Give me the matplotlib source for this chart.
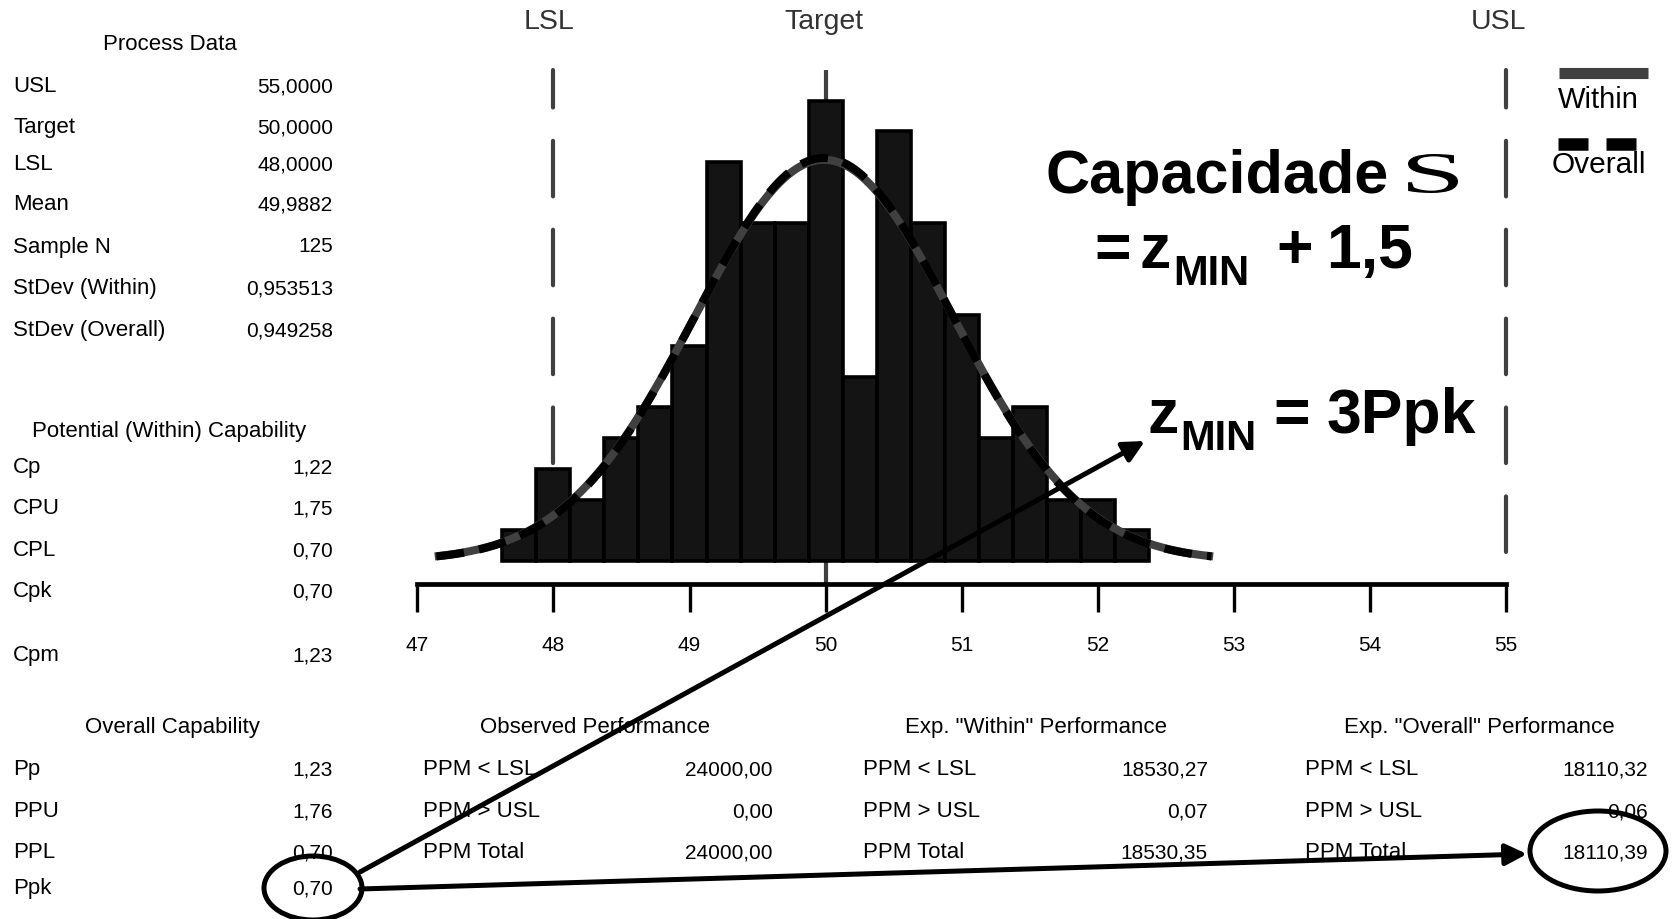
import numpy as np
import matplotlib
matplotlib.use("Agg")
import matplotlib.pyplot as plt
from matplotlib.patches import Ellipse, PathPatch
from matplotlib.textpath import TextPath
from matplotlib.font_manager import FontProperties
from matplotlib.transforms import Affine2D

plt.rcParams['font.family'] = ['Liberation Sans', 'DejaVu Sans']
plt.rcParams['lines.scale_dashes'] = False

# ---------------- data ----------------
USL, TARGET, LSL = 55.0, 50.0, 48.0
MEAN = 49.9882
N_SAMPLE = 125
SD_WITHIN = 0.953513
SD_OVERALL = 0.949258

bin_start = 47.625
bin_width = 0.25
counts = [1, 3, 2, 4, 5, 7, 13, 11, 11, 15, 6, 14, 11, 8, 4, 5, 2, 2, 1]
x_ticks = [47, 48, 49, 50, 51, 52, 53, 54, 55]

process_labels = ["USL", "Target", "LSL", "Mean", "Sample N", "StDev (Within)", "StDev (Overall)"]
process_values = ["55,0000", "50,0000", "48,0000", "49,9882", "125", "0,953513", "0,949258"]
potential_labels = ["Cp", "CPU", "CPL", "Cpk", "Cpm"]
potential_values = ["1,22", "1,75", "0,70", "0,70", "1,23"]
overall_labels = ["Pp", "PPU", "PPL", "Ppk"]
overall_values = ["1,23", "1,76", "0,70", "0,70"]
perf_labels = ["PPM < LSL", "PPM > USL", "PPM Total"]
observed_values = ["24000,00", "0,00", "24000,00"]
within_values = ["18530,27", "0,07", "18530,35"]
overall_perf_values = ["18110,32", "0,06", "18110,39"]

W, H = 1678, 920
fig = plt.figure(figsize=(W / 100, H / 100), dpi=100)

# ---------------- histogram axes ----------------
x_left, x_right = 417.4, 1505.8
y_top, y_axis = 71.0, 585.4
ax = fig.add_axes([x_left / W, 1 - y_axis / H, (x_right - x_left) / W, (y_axis - y_top) / H])
Y_LO, Y_HI = -0.766, 16.0
ax.set_xlim(47, 55)
ax.set_ylim(Y_LO, Y_HI)
ax.patch.set_alpha(0)

centers = bin_start + bin_width / 2 + bin_width * np.arange(len(counts))
ax.bar(centers, counts, width=bin_width, color='#141414', edgecolor='black',
       linewidth=2.6, zorder=3)

for sd, col, ls, z in [(SD_WITHIN, '#404040', '-', 4), (SD_OVERALL, 'black', (0, (20, 11)), 5)]:
    xs = np.linspace(MEAN - 3 * sd, MEAN + 3 * sd, 400)
    ys = N_SAMPLE * bin_width * np.exp(-0.5 * ((xs - MEAN) / sd) ** 2) / (sd * np.sqrt(2 * np.pi))
    ax.plot(xs, ys, color=col, lw=5.8, linestyle=ls, solid_capstyle='butt',
            dash_capstyle='butt', zorder=z)

# spec lines (drawn top -> bottom so the dash pattern starts at the top)
for xv, ls in [(LSL, (13, (40, 24))), (TARGET, '-'), (USL, (13, (40, 24)))]:
    ax.plot([xv, xv], [Y_HI, Y_LO], color='#404040', lw=3.0, linestyle=ls,
            dash_capstyle='round', solid_capstyle='butt', zorder=1, clip_on=False)

for s in ['top', 'left', 'right']:
    ax.spines[s].set_visible(False)
ax.spines['bottom'].set_linewidth(3.4)
ax.spines['bottom'].set_zorder(6)
ax.set_yticks([])
ax.set_xticks(x_ticks)
ax.set_xticklabels([str(t) for t in x_ticks])
ax.tick_params(axis='x', direction='out', length=20, width=2.4, labelsize=15, pad=16.5)

for xv, lab, dx in [(LSL, 'LSL', -0.03), (TARGET, 'Target', -0.01), (USL, 'USL', -0.055)]:
    ax.annotate(lab, xy=(xv + dx, H - 22), xycoords=('data', 'figure pixels'),
                ha='center', va='center', fontsize=20.5, color='#333333')

# ---------------- overlay axes (pixel coords) ----------------
ov = fig.add_axes([0, 0, 1, 1])
ov.set_xlim(0, W)
ov.set_ylim(H, 0)
ov.axis('off')
ov.patch.set_alpha(0)
ov.set_zorder(10)

FS_LAB = 16
FS_VAL = 15
def table(labels, values, x_lab, x_val, ys):
    for lab, val, y in zip(labels, values, ys):
        ov.text(x_lab, y, lab, ha='left', va='center', fontsize=FS_LAB)
        ov.text(x_val, y, val, ha='right', va='center', fontsize=FS_VAL)

ov.text(170, 45, "Process Data", ha='center', va='center', fontsize=FS_LAB)
table(process_labels, process_values, 13, 333, [87, 128, 165, 205, 247, 289, 331])
ov.text(169, 432, "Potential (Within) Capability", ha='center', va='center', fontsize=FS_LAB)
table(potential_labels, potential_values, 13, 333, [468, 509, 551, 592, 656])
ov.text(172, 728, "Overall Capability", ha='center', va='center', fontsize=FS_LAB)
row_y = [770, 812, 853, 889]
table(overall_labels, overall_values, 13, 333, row_y)

ov.text(595, 728, "Observed Performance", ha='center', va='center', fontsize=FS_LAB)
table(perf_labels, observed_values, 423, 773, row_y[:3])
ov.text(1036, 728, 'Exp. "Within" Performance', ha='center', va='center', fontsize=FS_LAB)
table(perf_labels, within_values, 863, 1208, row_y[:3])
ov.text(1479, 728, 'Exp. "Overall" Performance', ha='center', va='center', fontsize=FS_LAB)
table(perf_labels, overall_perf_values, 1305, 1648, row_y[:3])

# legend
ov.plot([1559, 1648], [74, 74], color='#404040', lw=8, solid_capstyle='butt')
ov.text(1558, 100, "Within", ha='left', va='center', fontsize=21)
ov.plot([1558, 1588], [145, 145], color='black', lw=9, solid_capstyle='butt')
ov.plot([1606, 1636], [145, 145], color='black', lw=9, solid_capstyle='butt')
ov.text(1552, 165, "Overall", ha='left', va='center', fontsize=21.5)

# big annotation text
bold = dict(fontweight='bold', color='black', va='baseline', ha='left')
ov.text(1045, 193, "Capacidade", fontsize=44, **bold)
# serif S
sp = TextPath((0, 0), "S", size=100, prop=FontProperties(family='Liberation Serif'))
ext = sp.get_extents()
tr = (Affine2D().translate(-ext.x0, -ext.y0)
      .scale(50 / ext.width, -39 / ext.height).translate(1408, 194))
ov.add_patch(PathPatch(tr.transform_path(sp), facecolor='black', edgecolor='none'))

ov.text(1094, 268, "=", fontsize=45, **bold)
ov.text(1140, 268, "z", fontsize=45, **bold)
ov.text(1173, 285, "MIN", fontsize=30, **bold)
ov.text(1276, 268, "+", fontsize=45, **bold)
ov.text(1326, 268, "1,5", fontsize=45, **bold)

ov.text(1147, 433, "z", fontsize=45, **bold)
ov.text(1180, 450, "MIN", fontsize=30, **bold)
ov.text(1273, 433, "=", fontsize=45, **bold)
ov.text(1327, 433, "3Ppk", fontsize=45, **bold)

# arrows and ellipses
arrow_kw = dict(arrowstyle='-|>', lw=3.6, color='black', mutation_scale=32,
                shrinkA=0, shrinkB=0)
ov.annotate('', xy=(1145, 442), xytext=(360, 873), arrowprops=arrow_kw)
ov.annotate('', xy=(1527, 855), xytext=(360, 890), arrowprops=arrow_kw)
ov.add_patch(Ellipse((313, 889), 98, 64, fill=False, lw=3.6, edgecolor='black'))
ov.add_patch(Ellipse((1598, 852), 136, 80, fill=False, lw=3.6, edgecolor='black'))

fig.savefig("out.png", dpi=100)
